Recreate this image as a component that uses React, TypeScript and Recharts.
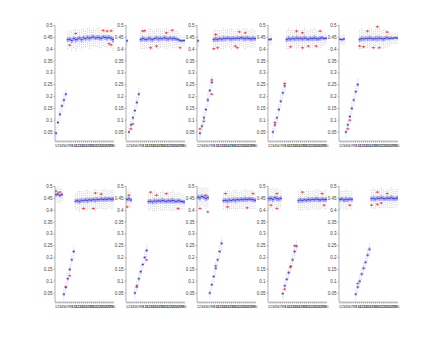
import { ComposedChart, Scatter, XAxis, YAxis, ErrorBar } from "recharts";

const CATS = [1, 2, 3, 4, 5, 6, 7, 8, 9, 10, 11, 12, 13, 14, 15, 16, 17, 18, 19, 20, 21, 22, 23, 24, 25, 26, 27, 28, 29, 30];
const Y_TICKS = [0.05, 0.1, 0.15, 0.2, 0.25, 0.3, 0.35, 0.4, 0.45, 0.5];
const Y_DOMAIN = [0.012, 0.502];

// row 1
const MED_A1 = [0.045, 0.09, 0.125, 0.16, 0.185, 0.21, 0.44, 0.442, 0.437, 0.445, 0.44, 0.443, 0.447, 0.44, 0.448, 0.444, 0.45, 0.446, 0.449, 0.452, 0.447, 0.45, 0.448, 0.446, 0.451, 0.449, 0.447, 0.45, 0.446, 0.44];
const IQR_A1 = [0.012, 0.012, 0.014, 0.012, 0.013, 0.012, 0.02, 0.018, 0.022, 0.02, 0.024, 0.02, 0.018, 0.022, 0.02, 0.018, 0.02, 0.022, 0.018, 0.02, 0.018, 0.02, 0.022, 0.02, 0.018, 0.02, 0.022, 0.018, 0.02, 0.024];
const OUT_A1 = [[8, 0.417], [11, 0.466], [25, 0.479], [27, 0.476], [29, 0.477], [29, 0.418], [28, 0.423]];

const MED_A2 = [0.435, 0.05, 0.08, 0.11, 0.14, 0.175, 0.21, 0.44, 0.445, 0.442, 0.44, 0.446, 0.443, 0.44, 0.445, 0.447, 0.443, 0.446, 0.444, 0.448, 0.445, 0.443, 0.447, 0.444, 0.446, 0.443, 0.44, 0.437, 0.435, 0.436];
const IQR_A2 = [0.012, 0.012, 0.012, 0.013, 0.012, 0.014, 0.013, 0.02, 0.022, 0.02, 0.018, 0.02, 0.022, 0.02, 0.018, 0.02, 0.022, 0.02, 0.018, 0.02, 0.022, 0.02, 0.018, 0.02, 0.02, 0.018, 0.016, 0.014, 0.012, 0.012];
const OUT_A2 = [[9, 0.476], [10, 0.478], [21, 0.469], [24, 0.48], [13, 0.406], [16, 0.413], [28, 0.406], [3, 0.063], [4, 0.084]];

const MED_A3 = [0.435, 0.045, 0.075, 0.11, 0.145, 0.185, 0.225, 0.26, 0.44, 0.443, 0.44, 0.445, 0.442, 0.446, 0.444, 0.447, 0.445, 0.443, 0.446, 0.444, 0.447, 0.445, 0.448, 0.446, 0.444, 0.447, 0.445, 0.443, 0.446, 0.444];
const IQR_A3 = [0.012, 0.012, 0.013, 0.014, 0.012, 0.015, 0.014, 0.013, 0.02, 0.022, 0.02, 0.018, 0.02, 0.022, 0.02, 0.018, 0.02, 0.022, 0.02, 0.018, 0.02, 0.02, 0.018, 0.02, 0.022, 0.02, 0.018, 0.02, 0.02, 0.018];
const OUT_A3 = [[9, 0.402], [11, 0.406], [10, 0.462], [22, 0.473], [20, 0.413], [21, 0.406], [25, 0.469], [2, 0.063], [4, 0.095], [8, 0.27], [8, 0.21]];

const MED_A4 = [0.44, 0.442, 0.05, 0.08, 0.11, 0.145, 0.18, 0.215, 0.245, 0.44, 0.445, 0.442, 0.446, 0.443, 0.447, 0.444, 0.446, 0.443, 0.447, 0.445, 0.442, 0.446, 0.444, 0.447, 0.445, 0.443, 0.446, 0.448, 0.445, 0.446];
const IQR_A4 = [0.012, 0.012, 0.012, 0.013, 0.012, 0.014, 0.013, 0.012, 0.014, 0.02, 0.022, 0.02, 0.018, 0.02, 0.022, 0.02, 0.018, 0.02, 0.022, 0.02, 0.018, 0.02, 0.02, 0.022, 0.02, 0.018, 0.02, 0.016, 0.014, 0.012];
const OUT_A4 = [[18, 0.469], [25, 0.413], [27, 0.476], [18, 0.406], [21, 0.413], [15, 0.476], [12, 0.41], [4, 0.09], [9, 0.255]];

const MED_A5 = [0.442, 0.44, 0.443, 0.05, 0.08, 0.115, 0.15, 0.185, 0.22, 0.25, 0.44, 0.445, 0.443, 0.446, 0.444, 0.447, 0.445, 0.443, 0.446, 0.444, 0.447, 0.445, 0.443, 0.446, 0.448, 0.445, 0.447, 0.446, 0.448, 0.447];
const IQR_A5 = [0.01, 0.01, 0.012, 0.012, 0.012, 0.013, 0.014, 0.012, 0.013, 0.014, 0.02, 0.022, 0.02, 0.018, 0.02, 0.022, 0.02, 0.018, 0.02, 0.022, 0.02, 0.018, 0.02, 0.02, 0.018, 0.016, 0.014, 0.012, 0.012, 0.012];
const OUT_A5 = [[11, 0.413], [15, 0.476], [18, 0.406], [21, 0.406], [20, 0.495], [5, 0.063], [6, 0.1], [13, 0.41], [25, 0.472]];

// row 2
const MED_B1 = [0.465, 0.468, 0.462, 0.466, 0.045, 0.075, 0.11, 0.15, 0.19, 0.225, 0.438, 0.44, 0.437, 0.442, 0.44, 0.443, 0.441, 0.444, 0.442, 0.445, 0.443, 0.446, 0.444, 0.447, 0.445, 0.447, 0.446, 0.448, 0.446, 0.447];
const IQR_B1 = [0.016, 0.018, 0.016, 0.014, 0.012, 0.012, 0.013, 0.014, 0.012, 0.014, 0.018, 0.02, 0.022, 0.02, 0.018, 0.02, 0.022, 0.02, 0.018, 0.02, 0.022, 0.02, 0.018, 0.02, 0.02, 0.022, 0.02, 0.018, 0.02, 0.02];
const OUT_B1 = [[3, 0.476], [1, 0.48], [15, 0.407], [20, 0.407], [21, 0.472], [24, 0.468], [6, 0.075], [8, 0.123]];

const MED_B2 = [0.445, 0.448, 0.443, null, 0.05, 0.08, 0.11, 0.14, 0.17, 0.2, 0.23, 0.436, 0.438, 0.435, 0.439, 0.437, 0.44, 0.438, 0.441, 0.439, 0.437, 0.44, 0.438, 0.441, 0.439, 0.437, 0.44, 0.438, 0.436, 0.435];
const IQR_B2 = [0.018, 0.02, 0.016, 0, 0.012, 0.012, 0.013, 0.014, 0.012, 0.013, 0.014, 0.02, 0.018, 0.02, 0.022, 0.02, 0.018, 0.02, 0.022, 0.02, 0.018, 0.02, 0.02, 0.022, 0.02, 0.018, 0.02, 0.018, 0.016, 0.016];
const OUT_B2 = [[2, 0.463], [1, 0.414], [13, 0.476], [16, 0.463], [21, 0.47], [27, 0.407], [11, 0.19], [6, 0.075]];

const MED_B3 = [0.455, 0.452, 0.458, 0.455, 0.45, 0.453, 0.05, 0.085, 0.12, 0.155, 0.19, 0.225, 0.26, 0.44, 0.442, 0.439, 0.443, 0.441, 0.444, 0.442, 0.445, 0.443, 0.446, 0.444, 0.447, 0.445, 0.447, 0.446, 0.444, 0.442];
const IQR_B3 = [0.02, 0.022, 0.018, 0.02, 0.022, 0.02, 0.012, 0.012, 0.013, 0.014, 0.012, 0.013, 0.014, 0.018, 0.02, 0.022, 0.02, 0.018, 0.02, 0.022, 0.02, 0.018, 0.02, 0.02, 0.022, 0.02, 0.018, 0.02, 0.02, 0.018];
const OUT_B3 = [[5, 0.463], [6, 0.393], [2, 0.407], [15, 0.47], [16, 0.414], [29, 0.47], [26, 0.41], [10, 0.165]];

const MED_B4 = [0.448, 0.45, 0.446, 0.452, 0.449, 0.447, 0.45, 0.047, 0.08, 0.108, 0.136, 0.16, 0.19, 0.225, 0.248, 0.44, 0.443, 0.441, 0.444, 0.442, 0.445, 0.443, 0.446, 0.444, 0.447, 0.445, 0.443, 0.446, 0.444, 0.445];
const IQR_B4 = [0.022, 0.02, 0.024, 0.02, 0.022, 0.02, 0.018, 0.012, 0.012, 0.013, 0.014, 0.012, 0.013, 0.014, 0.012, 0.02, 0.022, 0.02, 0.018, 0.02, 0.022, 0.02, 0.018, 0.02, 0.02, 0.022, 0.02, 0.018, 0.02, 0.02];
const OUT_B4 = [[2, 0.421], [5, 0.47], [5, 0.407], [28, 0.47], [29, 0.421], [18, 0.476], [9, 0.066], [12, 0.163], [14, 0.25]];

const MED_B5 = [0.445, 0.447, 0.443, 0.446, 0.444, 0.447, 0.445, null, 0.045, 0.075, 0.1, 0.13, 0.155, 0.18, 0.21, 0.235, 0.448, 0.45, 0.447, 0.451, 0.449, 0.452, 0.45, 0.448, 0.451, 0.449, 0.452, 0.45, 0.448, 0.451];
const IQR_B5 = [0.02, 0.018, 0.02, 0.022, 0.02, 0.018, 0.02, 0, 0.012, 0.012, 0.013, 0.012, 0.014, 0.012, 0.013, 0.014, 0.02, 0.022, 0.02, 0.018, 0.02, 0.022, 0.02, 0.018, 0.02, 0.02, 0.022, 0.02, 0.018, 0.02];
const OUT_B5 = [[20, 0.476], [17, 0.421], [20, 0.425], [25, 0.47], [6, 0.421], [10, 0.09], [22, 0.43]];

// layout
const COL_X = [55, 126, 197, 268, 339];
const ROW_Y = [25, 186];
const PW = 59;
const PH = 116;
const YW = 16;
const TP = 2;
const RP = 2;
const XH = 10;

const PANELS = [
  { med: MED_A1, iqr: IQR_A1, out: OUT_A1, row: 0, col: 0 },
  { med: MED_A2, iqr: IQR_A2, out: OUT_A2, row: 0, col: 1 },
  { med: MED_A3, iqr: IQR_A3, out: OUT_A3, row: 0, col: 2 },
  { med: MED_A4, iqr: IQR_A4, out: OUT_A4, row: 0, col: 3 },
  { med: MED_A5, iqr: IQR_A5, out: OUT_A5, row: 0, col: 4 },
  { med: MED_B1, iqr: IQR_B1, out: OUT_B1, row: 1, col: 0 },
  { med: MED_B2, iqr: IQR_B2, out: OUT_B2, row: 1, col: 1 },
  { med: MED_B3, iqr: IQR_B3, out: OUT_B3, row: 1, col: 2 },
  { med: MED_B4, iqr: IQR_B4, out: OUT_B4, row: 1, col: 3 },
  { med: MED_B5, iqr: IQR_B5, out: OUT_B5, row: 1, col: 4 },
];

const AXIS = "#a8a8a8";
const TICK = "#8a8a8a";

const Median = (p: any) => (
  <rect x={p.cx - 1.1} y={p.cy - 0.4} width={2.2} height={0.8} fill="#2a2ad8" />
);

const Plus = (p: any) => (
  <g stroke="#ff2a2a" strokeWidth={0.8}>
    <line x1={p.cx - 1.5} x2={p.cx + 1.5} y1={p.cy} y2={p.cy} />
    <line x1={p.cx} x2={p.cx} y1={p.cy - 1.1} y2={p.cy + 1.1} />
  </g>
);

const Nothing = () => <g />;

function Panel({ med, iqr, out, row, col }: any) {
  // Tukey whiskers: 1.5 IQR past the box edges
  const rows = CATS.flatMap((c, i) =>
    med[i] == null
      ? []
      : [{ x: c, y: med[i], box: [iqr[i] / 2, iqr[i] / 2], wh: [iqr[i] * 2, iqr[i] * 2] }]
  );
  const pts = out.map(([x, y]: number[]) => ({ x, y }));

  return (
    <div
      style={{
        position: "absolute",
        left: COL_X[col] - YW,
        top: ROW_Y[row] - TP,
      }}
    >
      <ComposedChart
        width={YW + PW + RP}
        height={TP + PH + XH}
        margin={{ top: TP, right: RP, left: 0, bottom: 0 }}
      >
        <XAxis
          xAxisId="b"
          type="number"
          dataKey="x"
          domain={[0.5, 30.5]}
          ticks={CATS}
          interval={0}
          height={XH}
          tickSize={1.5}
          tickMargin={1.5}
          tick={{ fontSize: 4.3, fill: "#444" }}
          axisLine={{ stroke: AXIS, strokeWidth: 0.7 }}
          tickLine={{ stroke: TICK, strokeWidth: 0.8 }}
          allowDataOverflow
        />
        <XAxis
          xAxisId="t"
          orientation="top"
          type="number"
          dataKey="x"
          domain={[0.5, 30.5]}
          ticks={CATS}
          interval={0}
          height={0}
          mirror
          tickSize={1.5}
          tickFormatter={() => ""}
          axisLine={{ stroke: AXIS, strokeWidth: 0.7 }}
          tickLine={{ stroke: TICK, strokeWidth: 0.8 }}
          allowDataOverflow
        />
        <YAxis
          yAxisId="l"
          type="number"
          dataKey="y"
          domain={Y_DOMAIN}
          ticks={Y_TICKS}
          interval={0}
          width={YW}
          tickSize={1.5}
          tickMargin={1}
          tick={{ fontSize: 4.5, fill: "#444" }}
          axisLine={{ stroke: AXIS, strokeWidth: 0.9 }}
          tickLine={{ stroke: TICK, strokeWidth: 0.6 }}
          allowDataOverflow
        />
        <YAxis
          yAxisId="r"
          orientation="right"
          type="number"
          dataKey="y"
          domain={Y_DOMAIN}
          ticks={Y_TICKS}
          interval={0}
          width={0}
          mirror
          tickSize={1.5}
          tickFormatter={() => ""}
          axisLine={{ stroke: AXIS, strokeWidth: 0.9 }}
          tickLine={{ stroke: TICK, strokeWidth: 0.6 }}
          allowDataOverflow
        />
        <Scatter xAxisId="b" yAxisId="l" data={rows} shape={Nothing} isAnimationActive={false}>
          <ErrorBar
            dataKey="wh"
            direction="y"
            width={0}
            stroke="#8c8c8c"
            strokeWidth={0.45}
            strokeDasharray="1 1.2"
            isAnimationActive={false}
          />
        </Scatter>
        <Scatter xAxisId="b" yAxisId="l" data={rows} shape={Median} isAnimationActive={false}>
          <ErrorBar
            dataKey="box"
            direction="y"
            width={0}
            stroke="#a6a6f6"
            strokeWidth={2}
            isAnimationActive={false}
          />
        </Scatter>
        <Scatter xAxisId="b" yAxisId="l" data={pts} shape={Plus} isAnimationActive={false} />
      </ComposedChart>
    </div>
  );
}

export default function App() {
  return (
    <div
      style={{
        position: "absolute",
        left: 0,
        top: 0,
        width: 441,
        height: 339,
        background: "#fff",
        fontFamily: "'Liberation Sans', Arial, sans-serif",
      }}
    >
      {PANELS.map((p, i) => (
        <Panel key={i} {...p} />
      ))}
    </div>
  );
}
